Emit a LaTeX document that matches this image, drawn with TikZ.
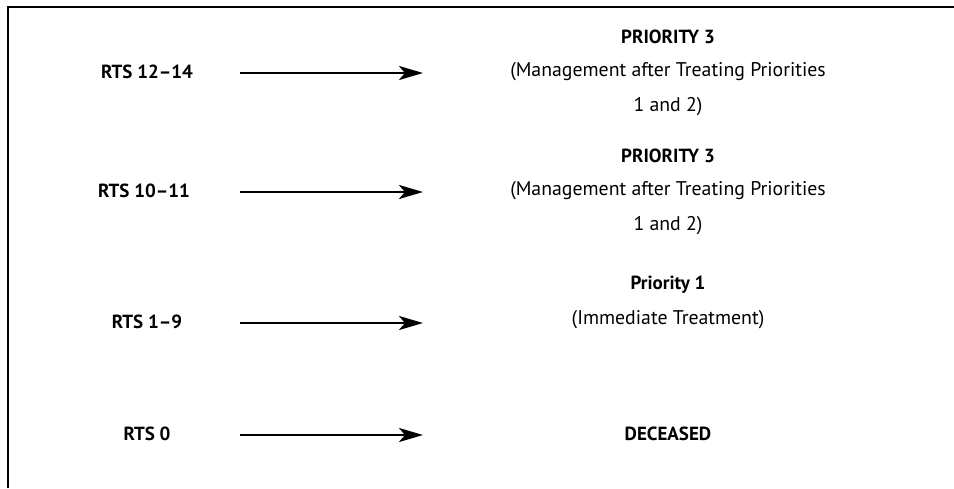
\documentclass[tikz,border=0pt]{standalone}
\usepackage{fontspec}
\setmainfont{PT Sans}
\usetikzlibrary{arrows.meta}
\begin{document}
\begin{tikzpicture}[x=1pt,y=-1pt,
  score/.style={font=\fontsize{19}{21}\selectfont\bfseries, anchor=center, inner sep=0pt},
  head/.style={font=\fontsize{19}{21}\selectfont\bfseries, anchor=center, inner sep=0pt},
  note/.style={font=\fontsize{19.8}{22}\selectfont, anchor=center, inner sep=0pt},
  flow/.style={line width=2.6pt, -{Stealth[length=24pt,width=14pt,inset=6pt]}}]
  \useasboundingbox (0,0) rectangle (954,488);
  % frame: top and left rules only
  \draw[line width=1.2pt] (8,488) -- (8,7) -- (954,7);

  % scores on the left
  \node[score] (s1) at (147,72) {RTS 12–14};
  \node[score] (s2) at (144,191) {RTS 10–11};
  \node[score] (s3) at (147,322) {RTS 1–9};
  \node[score] (s4) at (147,434) {RTS 0};

  % arrow endpoints
  \coordinate (a1) at (240,73);  \coordinate (b1) at (423,73);
  \coordinate (a2) at (240,192); \coordinate (b2) at (423,192);
  \coordinate (a3) at (240,323); \coordinate (b3) at (423,323);
  \coordinate (a4) at (240,435); \coordinate (b4) at (423,435);
  \foreach \i in {1,...,4} \draw[flow] (a\i) -- (b\i);

  % outcomes on the right
  \node[head] (p3a) at (668,37) {PRIORITY 3};
  \node[note] (m3a) at (668,72) {(Management after Treating Priorities};
  \node[note] (n3a) at (668,107) {1 and 2)};
  \node[head] (p3b) at (668,156) {PRIORITY 3};
  \node[note] (m3b) at (668,191) {(Management after Treating Priorities};
  \node[note] (n3b) at (668,226) {1 and 2)};
  \node[head] (p1) at (668,285) {Priority 1};
  \node[note] (m1) at (668,320) {(Immediate Treatment)};
  \node[head] (d) at (668,434) {DECEASED};
\end{tikzpicture}
\end{document}
